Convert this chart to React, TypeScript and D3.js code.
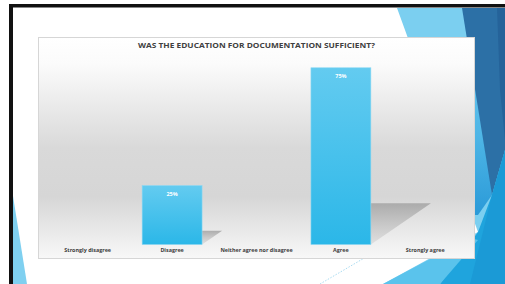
import React from "react";
import * as d3 from "d3";

const categories = [
  "Strongly disagree",
  "Disagree",
  "Neither agree nor disagree",
  "Agree",
  "Strongly agree",
];
const values = [0, 0.25, 0, 0.75, 0];
const title = "WAS THE EDUCATION FOR DOCUMENTATION SUFFICIENT?";

const W = 505;
const H = 284;

export default function App() {
  const x = d3
    .scaleBand<string>()
    .domain(categories)
    .range([45.5, 467.5])
    .paddingInner(0.29)
    .paddingOuter(0.145);
  const y = d3.scaleLinear().domain([0, 0.8]).range([244.5, 56]);
  const fmt = d3.format(".0%");
  const base = y(0);
  const line = d3.line();

  const poly = (pts: [number, number][]) => line(pts) + "Z";

  return (
    <svg
      width={W}
      height={H}
      style={{ position: "fixed", left: 0, top: 0, display: "block" }}
      fontFamily="'Open Sans', 'Liberation Sans', sans-serif"
    >
      <defs>
        <linearGradient id="bg" x1="0" y1="0" x2="0" y2="1">
          <stop offset="0" stopColor="#ffffff" />
          <stop offset="0.12" stopColor="#fbfbfb" />
          <stop offset="0.5" stopColor="#d9d9d9" />
          <stop offset="0.72" stopColor="#d6d6d6" />
          <stop offset="1" stopColor="#f8f8f8" />
        </linearGradient>
        <linearGradient id="bar" x1="0" y1="0" x2="0" y2="1">
          <stop offset="0" stopColor="#63cbf0" />
          <stop offset="1" stopColor="#2bb7e8" />
        </linearGradient>
        <linearGradient id="shadow" x1="0" y1="0" x2="0" y2="1">
          <stop offset="0" stopColor="#a9a9a9" stopOpacity="0.95" />
          <stop offset="1" stopColor="#c8c8c8" stopOpacity="0.4" />
        </linearGradient>
        <linearGradient id="strip" x1="0" y1="0" x2="0" y2="1">
          <stop offset="0" stopColor="#6cc9ef" />
          <stop offset="0.55" stopColor="#4fb6e6" />
          <stop offset="1" stopColor="#2a9ad8" />
        </linearGradient>
      </defs>

      <rect x={0} y={0} width={W} height={H} fill="#ffffff" />

      {/* slide decorations */}
      <path d={poly([[397, 8], [505, 8], [505, 284], [383, 284], [478, 232], [405, 30]])} fill="#7bcff0" />
      <path d={poly([[474, 37], [482, 37], [492, 195], [478, 215], [474, 215]])} fill="url(#strip)" />
      <path d={poly([[462, 8], [505, 8], [505, 150], [492, 195]])} fill="#2c70a6" />
      <path d={poly([[497, 8], [505, 8], [505, 140], [500, 90]])} fill="#25639a" />
      <path d={poly([[505, 150], [505, 284], [440, 284], [478, 232], [492, 195]])} fill="#1fa4dd" />
      <path d={poly([[505, 150], [505, 284], [470, 284], [492, 195]])} fill="#1b9ad6" />
      <path d={poly([[383, 284], [440, 284], [478, 240], [470, 238]])} fill="#5ac3ec" />
      <path d={poly([[13, 196], [13, 284], [27, 284]])} fill="#7fd0f0" />
      <line x1={320} y1={284} x2={366} y2={257} stroke="#a9dcf2" strokeWidth={1} strokeDasharray="1.5 1.5" />

      {/* frame */}
      <rect x={9} y={4} width={W - 9} height={3.5} fill="#111" />
      <rect x={9} y={4} width={4} height={H - 4} fill="#111" />

      {/* chart area */}
      <rect x={38.5} y={37.5} width={436} height={221} fill="url(#bg)" stroke="#d6d6d6" strokeWidth={1} />

      <text
        x={256.5}
        y={47.5}
        textAnchor="middle"
        fontSize={7.4}
        fontWeight="bold"
        fill="#404040"
        textLength={237}
        lengthAdjust="spacingAndGlyphs"
      >
        {title}
      </text>

      {/* shadows */}
      {categories.map((c, i) => {
        const v = values[i];
        if (!v) return null;
        const x0 = x(c) as number;
        const x1 = x0 + x.bandwidth();
        const h = base - y(v);
        const dx = 0.34 * h;
        const dy = 0.233 * h;
        return (
          <path
            key={"s" + c}
            d={poly([[x0, base], [x1, base], [x1 + dx, base - dy], [x0 + dx, base - dy]])}
            fill="url(#shadow)"
          />
        );
      })}

      {/* bars */}
      {categories.map((c, i) => {
        const v = values[i];
        if (!v) return null;
        const x0 = x(c) as number;
        return (
          <g key={"b" + c}>
            <rect
              x={x0}
              y={y(v)}
              width={x.bandwidth()}
              height={base - y(v)}
              fill="url(#bar)"
              stroke="#8bd8f3"
              strokeWidth={0.6}
            />
            <text
              x={x0 + x.bandwidth() / 2}
              y={y(v) + 10}
              textAnchor="middle"
              fontSize={5.5}
              fontWeight="bold"
              fill="#ffffff"
            >
              {fmt(v)}
            </text>
          </g>
        );
      })}

      {/* category labels */}
      {categories.map((c) => (
        <text
          key={"l" + c}
          x={(x(c) as number) + x.bandwidth() / 2}
          y={252}
          textAnchor="middle"
          fontSize={5.4}
          fontWeight="bold"
          fill="#404040"
        >
          {c}
        </text>
      ))}
    </svg>
  );
}
